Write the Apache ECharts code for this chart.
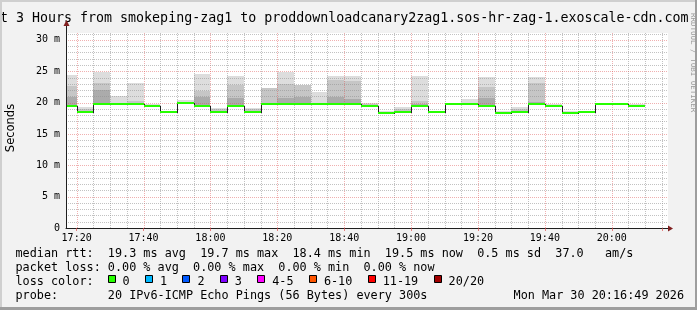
<!DOCTYPE html>
<html><head><meta charset="utf-8">
<script src="https://cdn.jsdelivr.net/npm/echarts@6/dist/echarts.min.js"></script>
<style>html,body{margin:0;padding:0;background:#f2f2f2;overflow:hidden}#c{width:697px;height:310px}</style>
</head><body><div id="c"></div>
<script>
// ---------- data ----------
const titleText = 'Last 3 Hours from smokeping-zag1 to proddownloadcanary2zag1.sos-hr-zag-1.exoscale-cdn.com';
const xRange = ['17:16:49', '20:16:49'];
const binStarts = ['17:15','17:20','17:25','17:30','17:35','17:40','17:45','17:50','17:55',
  '18:00','18:05','18:10','18:15','18:20','18:25','18:30','18:35','18:40','18:45','18:50','18:55',
  '19:00','19:05','19:10','19:15','19:20','19:25','19:30','19:35','19:40','19:45','19:50','19:55',
  '20:00','20:05'];
const medians = [19.5,18.55,19.83,19.83,19.83,19.5,18.55,19.88,19.5,
  18.55,19.5,18.55,19.83,19.83,19.83,19.83,19.83,19.83,19.5,18.4,18.55,
  19.5,18.55,19.83,19.83,19.5,18.4,18.55,19.83,19.5,18.4,18.55,19.83,
  19.83,19.5];
const smokeMin = [19.3,18.45,19.7,19.7,19.7,19.4,18.45,19.8,19.4,
  18.45,19.4,18.45,19.7,19.7,19.7,19.7,19.7,19.7,19.4,18.3,18.45,
  19.4,18.45,19.7,19.7,19.4,18.3,18.45,19.7,19.4,18.3,18.45,19.7,
  19.7,19.4];
const smokeLow = [20.9,18.7,22.0,19.8,19.9,19.5,18.55,19.9,20.9,
  18.7,20.8,18.7,19.8,20.8,20.9,19.8,20.9,20.5,19.6,18.4,18.7,
  19.7,18.55,19.8,19.8,20.7,18.4,18.7,20.05,19.5,18.4,18.55,19.8,
  19.8,19.5];
const smokeHigh = [22.7,19.0,23.1,19.9,20.25,19.6,18.6,20.0,21.9,
  19.0,22.8,19.0,22.4,23.0,22.8,19.9,23.6,23.5,19.8,18.5,19.0,
  20.2,18.6,19.9,19.9,22.5,18.5,19.0,23.1,19.6,18.5,18.6,19.9,
  19.9,19.6];
const smokeMax = [24.4,19.25,24.9,21.05,23.1,19.7,18.7,20.4,24.6,
  19.2,24.2,19.2,22.4,24.9,22.8,21.7,24.2,24.2,20.0,18.6,19.25,
  24.2,18.7,20.0,20.65,24.1,18.6,19.25,24.1,19.7,18.6,18.7,20.0,
  20.0,19.7];
const yRange = [0, 31.1];
const rttStats = ['19.3 ms avg', '19.7 ms max', '18.4 ms min', '19.5 ms now', '0.5 ms sd', '37.0   am/s'];
const lossStats = ['0.00 % avg', '0.00 % max', '0.00 % min', '0.00 % now'];
const lossLabels = ['0','1','2','3','4-5','6-10','11-19','20/20'];
const lossColors = ['#26ff00','#00b8ff','#0059ff','#7e00ff','#ff00ff','#ff5500','#ff0000','#a10000'];
const probeText = '20 IPv6-ICMP Echo Pings (56 Bytes) every 300s';
const dateText = 'Mon Mar 30 20:16:49 2026';
const yLabel = 'Seconds';
const creditText = 'RRDTOOL / TOBI OETIKER';

// ---------- helpers ----------
function toMin(s){ const p = s.split(':').map(Number); return p[0]*60 + p[1] + (p[2]||0)/60; }
function fmtMin(v){ const h = Math.floor(v/60), m = Math.round(v%60); return (h<10?'0':'')+h+':'+(m<10?'0':'')+m; }
const STEP = 5, MAJ_X = 20, MAJ_Y = 5, MIN_Y = 1;
const xMin = toMin(xRange[0]), xMax = toMin(xRange[1]);
const G = {left:66, top:33, width:602, height:195};
const pxPerMin = G.width/(xMax-xMin);
const gridStart = Math.ceil(xMin/STEP)*STEP, gridEnd = Math.floor(xMax/STEP)*STEP;
const G2 = {left: G.left + (gridStart-xMin)*pxPerMin, top:G.top, width:(gridEnd-gridStart)*pxPerMin, height:G.height};
const MONO = '"DejaVu Sans Mono", monospace';
const smokeColors = ['#ababab','#c6c6c6','#dddddd'];
const minorGrid = 'rgba(143,143,143,0.55)';
const majorGrid = 'rgba(222,79,79,0.45)';

// grid tick values derived from the axis ranges
const vTickValues = [], hTicks = [];
for (let t = gridStart; t <= xMax; t += STEP) vTickValues.push(t);
for (let v = yRange[0] + MIN_Y; v < yRange[1]; v += MIN_Y) hTicks.push([xMin, v, (v % MAJ_Y === 0) ? 1 : 0]);

const smokeData = binStarts.map((t,i)=>[toMin(t), smokeMin[i], toMin(t)+STEP, smokeLow[i], smokeHigh[i], smokeMax[i]]);
const medData = binStarts.map((t,i)=>[toMin(t), medians[i], toMin(t)+STEP, i>0?medians[i-1]:medians[i]]);

function clip(r, cs){ return echarts.graphic.clipRectByRect(r, {x:cs.x,y:cs.y,width:cs.width,height:cs.height}); }

function renderSmoke(params, api){
  const t0 = api.value(0), t1 = api.value(2);
  const v = [api.value(1), api.value(3), api.value(4), api.value(5)];
  const cs = params.coordSys;
  const children = [];
  for (let k=0;k<3;k++){
    if (v[k+1] <= v[k]) continue;
    const a = api.coord([t0, v[k+1]]), b = api.coord([t1, v[k]]);
    const x0 = Math.round(a[0]), x1 = Math.round(b[0]);
    const y0 = Math.round(a[1]), y1 = Math.max(Math.round(b[1]), y0+1);
    const r = clip({x:x0, y:y0, width:x1-x0, height:y1-y0}, cs);
    if (r) children.push({type:'rect', shape:r, style:{fill:smokeColors[k]}});
  }
  return {type:'group', children};
}
function renderGrid(params, api){
  const cs = params.coordSys;
  const p = api.coord([api.value(0), api.value(1)]);
  const y = Math.round(p[1]) + 0.5;
  const children = [{type:'line', shape:{x1:cs.x, y1:y, x2:cs.x+cs.width, y2:y},
    style:{stroke: api.value(2) ? majorGrid : minorGrid, lineWidth:1, lineDash:[1,1]}}];
  if (params.dataIndex === 0){
    const top = Math.round(api.coord([xMin, yRange[1]])[1]);
    const bottom = Math.round(api.coord([xMin, yRange[0]])[1]);
    vTickValues.forEach(t=>{
      const x = Math.round(api.coord([t, yRange[0]])[0]);
      const fill = (t % MAJ_X === 0) ? majorGrid : minorGrid;
      for (let yy = top; yy < bottom; yy += 2){
        children.push({type:'rect', shape:{x:x, y:yy, width:1, height:1}, style:{fill}});
      }
    });
  }
  return {type:'group', children};
}
function renderMedian(params, api){
  const t0 = Math.max(api.value(0), xMin), t1 = Math.min(api.value(2), xMax);
  const a = api.coord([t0, api.value(1)]), b = api.coord([t1, api.value(1)]);
  const p = api.coord([t0, api.value(3)]);
  const x0 = Math.round(a[0]), x1 = Math.round(b[0]);
  const y = Math.round(a[1]), yp = Math.round(p[1]);
  const children = [];
  if (params.dataIndex > 0 && yp !== y){
    children.push({type:'rect', shape:{x:x0, y:Math.min(y,yp), width:1, height:Math.abs(y-yp)+1}, style:{fill:'#1f1f1f'}});
  }
  children.push({type:'rect', shape:{x:x0, y:y-1, width:x1-x0, height:2}, style:{fill:lossColors[0]}});
  return {type:'group', children};
}

// ---------- legend graphics ----------
const CW = 7.12, LX = 15.5;
const rows = [254, 268, 282, 296];
const graphic = [];
graphic.push({type:'text', x:-24, y:19, style:{text:titleText, font:'13.3px '+MONO, fill:'#000', verticalAlign:'middle'}});
graphic.push({type:'text', x:693, y:13, rotation:-Math.PI/2, style:{text:creditText, font:'7.5px '+MONO, fill:'#9a9a9a', verticalAlign:'middle'}});
graphic.push({type:'text', x:11, y:128, rotation:Math.PI/2, style:{text:yLabel, font:'11.5px "DejaVu Sans", sans-serif', fill:'#000', align:'center', verticalAlign:'middle'}});
graphic.push({type:'text', x:LX, y:rows[0], style:{text:'median rtt:  '+rttStats.join('  '), font:'11.8px '+MONO, fill:'#000', verticalAlign:'middle'}});
graphic.push({type:'text', x:LX, y:rows[1], style:{text:'packet loss: '+lossStats.join('  '), font:'11.8px '+MONO, fill:'#000', verticalAlign:'middle'}});
graphic.push({type:'text', x:LX, y:rows[2], style:{text:'loss color:', font:'11.8px '+MONO, fill:'#000', verticalAlign:'middle'}});
let bx = LX + 13*CW - 0.5;
lossLabels.forEach((lab,i)=>{
  graphic.push({type:'rect', shape:{x:Math.round(bx)+0.5, y:275.5, width:7, height:7}, style:{fill:lossColors[i], stroke:'#000', lineWidth:1}});
  graphic.push({type:'text', x:bx+15, y:rows[2], style:{text:lab, font:'11.8px '+MONO, fill:'#000', verticalAlign:'middle'}});
  bx = bx + 15 + lab.length*CW + 15.3;
});
graphic.push({type:'text', x:LX, y:rows[3], style:{text:'probe:       '+probeText, font:'11.8px '+MONO, fill:'#000', verticalAlign:'middle'}});
graphic.push({type:'text', x:684, y:rows[3], style:{text:dateText, font:'11.8px '+MONO, fill:'#000', align:'right', verticalAlign:'middle'}});
// axis extension + arrows
graphic.push({type:'line', z:20, shape:{x1:G.left+0.5, y1:G.top, x2:G.left+0.5, y2:24}, style:{stroke:'#1f1f1f', lineWidth:1}});
graphic.push({type:'polygon', z:20, shape:{points:[[G.left+0.5,20],[G.left-2.5,26],[G.left+3.5,26]]}, style:{fill:'#801f1f'}});
graphic.push({type:'polygon', z:20, shape:{points:[[G.left+G.width+5,G.top+G.height+0.5],[G.left+G.width,G.top+G.height-2.5],[G.left+G.width,G.top+G.height+3.5]]}, style:{fill:'#801f1f'}});
// frame
graphic.push({type:'rect', shape:{x:0,y:0,width:697,height:2}, style:{fill:'#cfcfcf'}});
graphic.push({type:'rect', shape:{x:0,y:0,width:2,height:310}, style:{fill:'#cfcfcf'}});
graphic.push({type:'rect', shape:{x:0,y:307,width:697,height:3}, style:{fill:'#9e9e9e'}});
graphic.push({type:'rect', shape:{x:695,y:0,width:2,height:310}, style:{fill:'#9e9e9e'}});

const chart = echarts.init(document.getElementById('c'), null, {renderer:'canvas'});
chart.setOption({
  animation:false,
  backgroundColor:'#f2f2f2',
  grid:[
    {left:G.left, top:G.top, width:G.width, height:G.height, show:true, backgroundColor:'#fff', borderWidth:0, z:0},
    {left:G2.left, top:G2.top, width:G2.width, height:G2.height, show:false}
  ],
  xAxis:[
    {gridIndex:0, type:'value', min:xMin, max:xMax, position:'bottom', z:6,
      axisLine:{show:true, onZero:false, lineStyle:{color:'#1f1f1f', width:1}},
      axisTick:{show:false}, axisLabel:{show:false}, splitLine:{show:false}},
    {gridIndex:1, type:'value', min:gridStart, max:gridEnd, interval:MAJ_X, position:'bottom', z:6,
      axisLine:{show:false},
      axisTick:{show:true, length:3, inside:false, lineStyle:{color:'rgba(222,79,79,0.7)', width:1}},
      axisLabel:{show:true, margin:5, fontFamily:MONO, fontSize:10, color:'#000',
        formatter:v=> (Math.abs(v%MAJ_X)<1e-6 ? fmtMin(v) : '')},
      splitLine:{show:false}}
  ],
  yAxis:[
    {gridIndex:0, type:'value', min:yRange[0], max:yRange[1], interval:MAJ_Y, position:'left', z:6,
      axisLine:{show:true, onZero:false, lineStyle:{color:'#1f1f1f', width:1}},
      axisTick:{show:false},
      axisLabel:{show:true, margin:6, fontFamily:MONO, fontSize:10, color:'#000',
        formatter:v=> (Math.abs(v%MAJ_Y)<1e-6 ? (v===0?'0':v+' m') : '')},
      splitLine:{show:false}},
    {gridIndex:1, type:'value', min:0, max:1, show:false, splitLine:{show:false}}
  ],
  series:[
    {type:'custom', name:'smoke', xAxisIndex:0, yAxisIndex:0, z:1, renderItem:renderSmoke, data:smokeData, silent:true},
    {type:'custom', name:'grid', xAxisIndex:0, yAxisIndex:0, z:3, renderItem:renderGrid, data:hTicks, silent:true},
    {type:'custom', name:'median', xAxisIndex:0, yAxisIndex:0, z:5, renderItem:renderMedian, data:medData, silent:true}
  ],
  graphic: graphic
});
</script></body></html>
